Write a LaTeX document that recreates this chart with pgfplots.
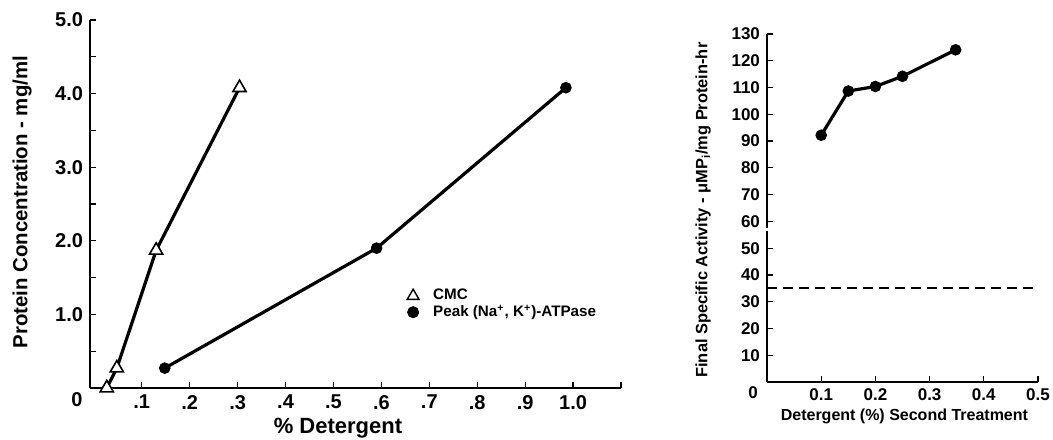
\documentclass[border=0pt]{standalone}
\usepackage{fontspec}
\setmainfont{Liberation Sans}
\usepackage{pgfplots}
\pgfplotsset{compat=1.18}

\pgfplotstableread{
x     y
0.027 0.0
0.048 0.27
0.13  1.87
0.304 4.08
}\cmc
\pgfplotstableread{
x     y
0.148 0.27
0.59  1.90
0.985 4.08
}\peak
\pgfplotstableread{
x     y
0.10  92.2
0.15  108.7
0.20  110.4
0.25  114.2
0.348 124.1
}\second

\begin{document}
\begin{tikzpicture}
\useasboundingbox (0,0) rectangle (526.5pt,-219.5pt);

% left panel
\begin{axis}[
    at={(45pt,-194pt)}, anchor=south west, scale only axis,
    width=265.5pt, height=184pt,
    xmin=-0.008, xmax=1.1, ymin=0, ymax=5,
    axis x line*=bottom, axis y line*=left,
    axis line style={line width=0.9pt},
    tick align=inside, major tick length=3pt, minor tick length=3pt,
    every tick/.style={black, line width=0.6pt},
    xtick={0.1,0.2,0.3,0.4,0.5,0.6,0.7,0.8,0.9,1.0},
    xticklabels={.1,.2,.3,.4,.5,.6,.7,.8,.9,1.0},
    extra x ticks={1.1}, extra x tick labels={},
    ytick={1,2,3,4,5}, yticklabels={1.0,2.0,3.0,4.0,5.0},
    minor ytick={0.5,1.5,2.5,3.5,4.5},
    /pgf/number format/assume math mode=true,
    ticklabel style={font=\fontsize{10}{11}\selectfont\bfseries},
    xlabel={\% Detergent}, ylabel={Protein Concentration - mg/ml},
    xlabel style={font=\fontsize{11}{12}\selectfont\bfseries,
        at={(axis description cs:0.467,-0.109)}, anchor=center},
    ylabel style={font=\fontsize{10.2}{11}\selectfont\bfseries,
        at={(axis description cs:-0.128,0.505)}, anchor=center},
    legend cell align=left,
    legend style={at={(axis cs:0.642,1.43)}, anchor=north west, draw=none, fill=none,
        font=\fontsize{7.6}{8}\selectfont\bfseries, row sep=-3pt, inner sep=1pt},
    legend image code/.code={\path (0cm,0cm) (0.42cm,0cm);
        \draw[#1] plot coordinates {(0.15cm,0cm)};},
    clip=false,
]
\addplot[black, line width=1.6pt, forget plot] table {\cmc};
\addplot[black, line width=1.6pt, forget plot] table {\peak};
\addplot[only marks, mark=triangle*, mark size=3.8pt, fill=white, draw=black, line width=0.8pt, forget plot] table {\cmc};
\addplot[only marks, mark=*, mark size=2.7pt, black, forget plot] table {\peak};
\addlegendimage{only marks, mark=triangle*, mark size=3.4pt, fill=white, draw=black, line width=0.7pt}
\addlegendentry{CMC}
\addlegendimage{only marks, mark=*, mark size=2.8pt, black}
\addlegendentry{Peak (Na\textsuperscript{+}, K\textsuperscript{+})-ATPase}
\end{axis}
\node[font=\fontsize{10}{11}\selectfont\bfseries] at (38.5pt,-200pt) {0};

% right panel
\begin{axis}[
    at={(383.5pt,-191pt)}, anchor=south west, scale only axis,
    width=135.5pt, height=174pt,
    xmin=0, xmax=0.5, ymin=0, ymax=130,
    axis x line*=bottom, axis y line*=left,
    axis line style={line width=0.9pt},
    tick align=inside, major tick length=3pt,
    every tick/.style={black, line width=0.6pt},
    xtick={0.1,0.2,0.3,0.4,0.5},
    xticklabels={0.1,0.2,0.3,0.4,0.5},
    ytick={10,20,30,40,50,60,70,80,90,100,110,120,130},
    /pgf/number format/assume math mode=true,
    ticklabel style={font=\fontsize{8.5}{9}\selectfont\bfseries},
    xlabel={Detergent (\%) Second Treatment},
    ylabel={Final Specific Activity - μMP\textsubscript{i}/mg Protein-hr},
    xlabel style={font=\fontsize{8}{9}\selectfont\bfseries,
        at={(axis description cs:0.507,-0.10)}, anchor=center},
    ylabel style={font=\fontsize{8.2}{9}\selectfont\bfseries,
        at={(axis description cs:-0.236,0.494)}, anchor=center},
    clip=false,
]
\addplot[black, line width=1pt, dash pattern=on 5pt off 3pt, forget plot] coordinates {(0,35) (0.5,35)};
\addplot[black, line width=1.6pt] table {\second};
\addplot[only marks, mark=*, mark size=2.7pt, black] table {\second};
\draw[white, line width=2pt] (axis cs:0,56.3) -- (axis cs:0,57.6);
\end{axis}
\node[font=\fontsize{8.5}{9}\selectfont\bfseries] at (376.5pt,-196.5pt) {0};
\end{tikzpicture}
\end{document}
